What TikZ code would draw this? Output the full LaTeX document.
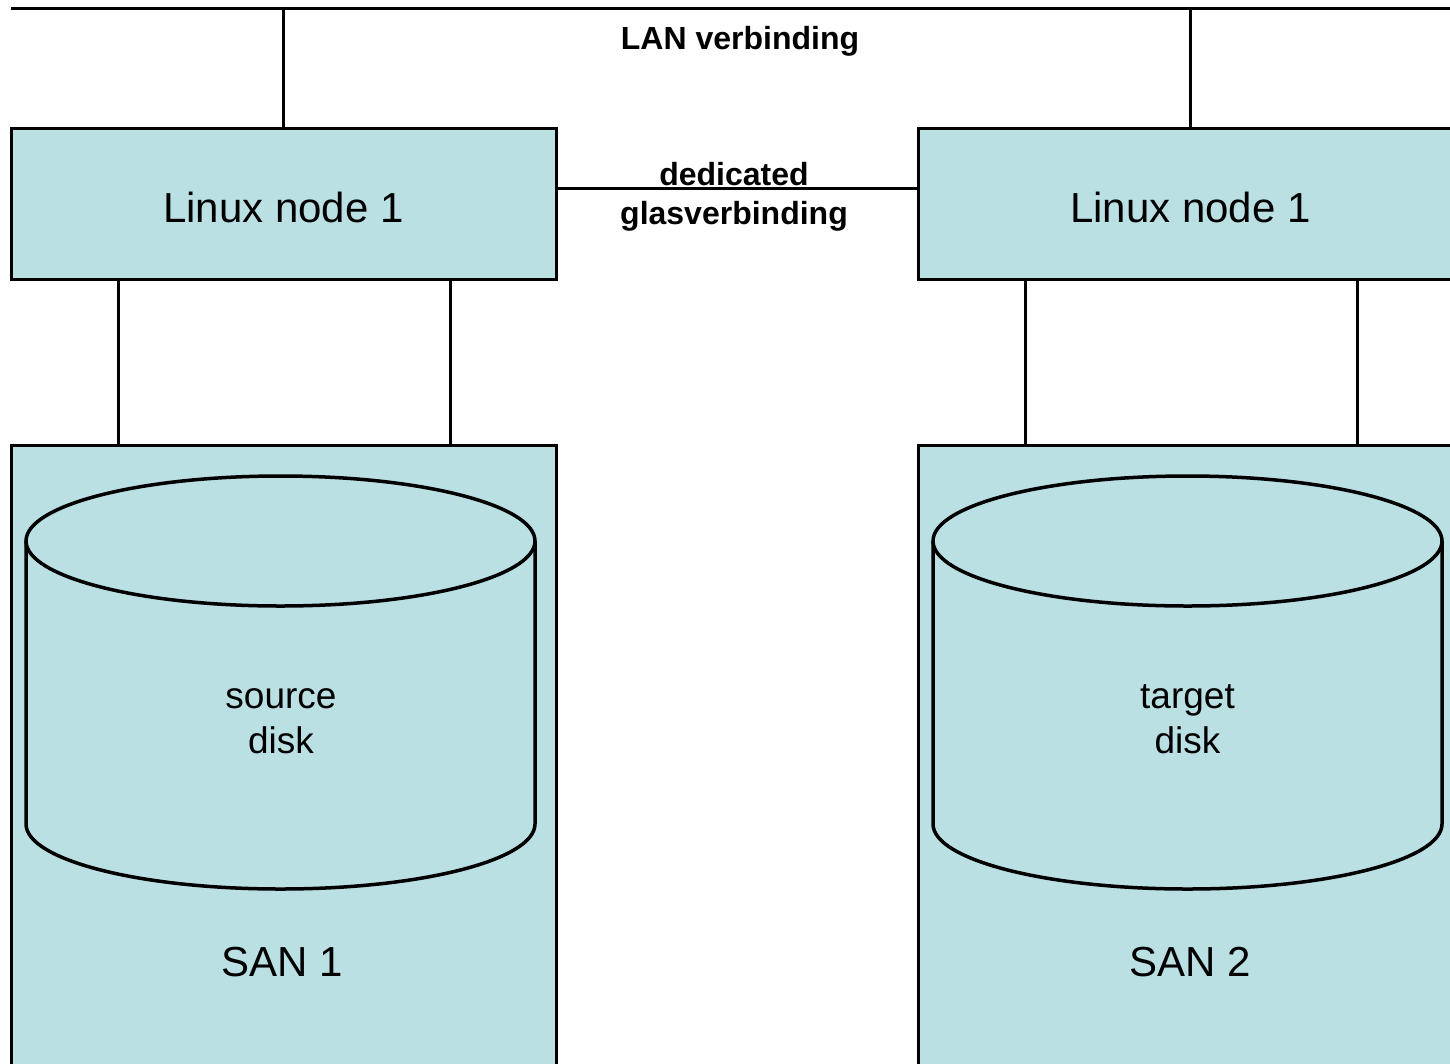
\documentclass[tikz,border=0pt]{standalone}
\usepackage{fontspec}
\setmainfont{Liberation Sans}
\definecolor{boxfill}{HTML}{BAE0E3}
\begin{document}
\begin{tikzpicture}[x=1pt,y=-1pt,line width=3pt,
  box/.style={draw=black,fill=boxfill,rectangle,outer sep=0pt,inner sep=0pt,
    minimum width=545pt,anchor=north west},
  bigtxt/.style={font=\fontsize{42}{48}\selectfont,inner sep=0pt},
  disktxt/.style={font=\fontsize{37}{45}\selectfont,align=center,inner sep=0pt},
  boldtxt/.style={font=\fontsize{32}{39}\selectfont\bfseries,align=center,inner sep=0pt},
  wire/.style={draw=black,line width=3pt},
  cyl/.style={draw=black,fill=boxfill,line width=3.5pt}]
\useasboundingbox (0,0) rectangle (1450,1063);
\clip (0,0) rectangle (1450,1063);
% LAN line
\coordinate (lanL) at (11,8);
\coordinate (lanR) at (1470,8);
\draw[wire] (lanL) -- (lanR);
\node[boldtxt] (lan) at (740,41) {LAN verbinding};
% Linux nodes
\node[box,minimum height=151pt] (n1) at (11,128) {};
\node[box,minimum height=151pt] (n2) at (918,128) {};
\node[bigtxt] (n1t) at (283.5,207) {Linux node 1};
\node[bigtxt] (n2t) at (1190.5,207) {Linux node 1};
\draw[wire] (n1.north) -- (n1.north |- lanL);
\draw[wire] (n2.north) -- (n2.north |- lanL);
% dedicated link
\draw[wire] ([yshift=15.5pt]n1.east) -- ([yshift=15.5pt]n2.west);
\node[boldtxt] (ded) at (734,196.5) {dedicated\\glasverbinding};
% SAN boxes
\node[box,minimum height=640pt] (s1) at (11,445) {};
\node[box,minimum height=640pt] (s2) at (918,445) {};
\draw[wire] ([xshift=107pt]n1.south west) -- ([xshift=107pt]s1.north west);
\draw[wire] ([xshift=439pt]n1.south west) -- ([xshift=439pt]s1.north west);
\draw[wire] ([xshift=107pt]n2.south west) -- ([xshift=107pt]s2.north west);
\draw[wire] ([xshift=439pt]n2.south west) -- ([xshift=439pt]s2.north west);
% cylinders
\foreach \cx in {280.5,1187.5}{
  \path[cyl] (\cx-254.5,541) -- (\cx-254.5,824)
     arc[start angle=180,end angle=0,x radius=254.5,y radius=65]
     -- (\cx+254.5,541);
  \path[cyl] (\cx,541) ellipse[x radius=254.5,y radius=65];
}
\node[disktxt] (d1) at (281,721) {source\\disk};
\node[disktxt] (d2) at (1187.5,719.5) {target\\disk};
\node[bigtxt] (s1t) at (282,962) {SAN 1};
\node[bigtxt] (s2t) at (1190,962) {SAN 2};
\end{tikzpicture}
\end{document}
